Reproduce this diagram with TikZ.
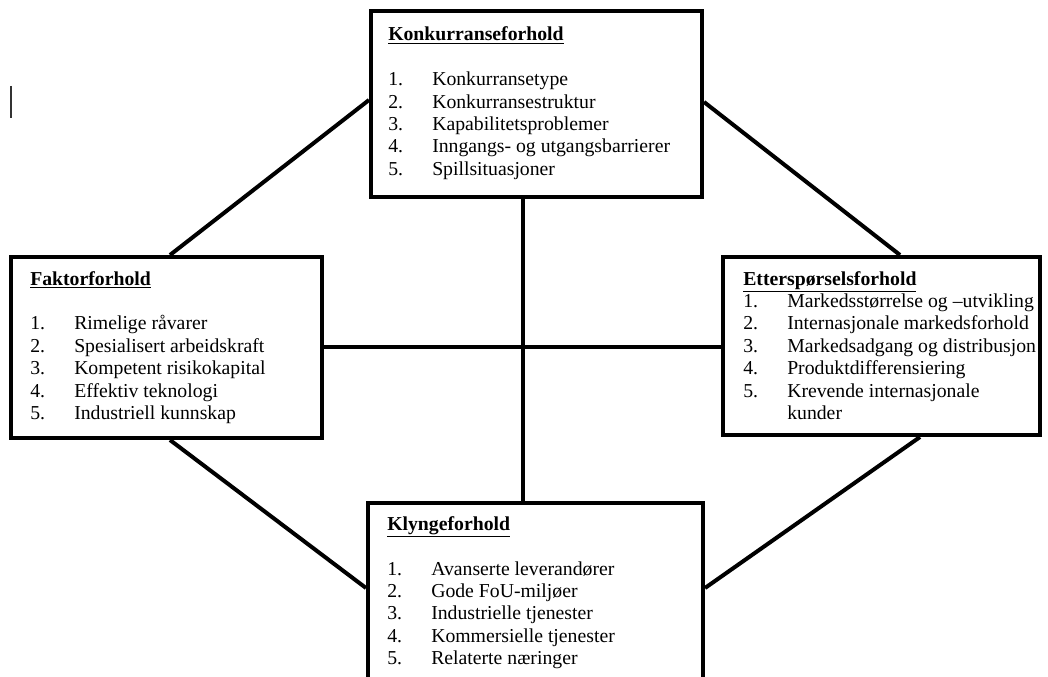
\documentclass[tikz,border=0pt]{standalone}
\usepackage{fontspec}
\setmainfont{Liberation Serif}

\begin{document}
\begin{tikzpicture}[x=0.75pt,y=-0.75pt,
	box/.style={draw=black,line width=3pt,rectangle,inner sep=0pt},
	link/.style={line width=3pt},
	txt/.style={anchor=base west,inner sep=0pt,font=\fontsize{14.8}{16.8}\selectfont}]
	\clip (0,0) rectangle (1048,677);
	%boxes
	\node[box,minimum width=248.25pt,minimum height=139.5pt] (konk) at (536.5,104) {};
	\node[box,minimum width=233.25pt,minimum height=135.75pt] (fak) at (166.5,347.5) {};
	\node[box,minimum width=237.75pt,minimum height=133.5pt] (ett) at (881.5,346) {};
	\node[box,minimum width=251.25pt,minimum height=162.75pt] (kly) at (535.5,611.5) {};
	%connectors
	\draw[link] (konk.west |- 0,100) -- (fak.north -| 170,0);
	\draw[link] (konk.east |- 0,102) -- (ett.north -| 900,0);
	\draw[link] (fak.south -| 170,0) -- (kly.west |- 0,588);
	\draw[link] (ett.south -| 920,0) -- (kly.east |- 0,588);
	\draw[link] (konk.south -| 523,0) -- (kly.north -| 523,0);
	\draw[link] (fak.east |- 0,347) -- (ett.west |- 0,347);
	%cursor
	\draw[line width=1.5pt,black!80] (11,86) -- (11,118);
	%texts
	\node[txt] (konktxt) at (388,41) {\begin{tabular}[t]{@{}p{33pt}@{}l@{}}
		\multicolumn{2}{@{}l@{}}{\underline{\textbf{Konkurranseforhold}}}\\
		\\
		1. & Konkurransetype\\
		2. & Konkurransestruktur\\
		3. & Kapabilitetsproblemer\\
		4. & Inngangs- og utgangsbarrierer\\
		5. & Spillsituasjoner
	\end{tabular}};
	\node[txt] (faktxt) at (30,285) {\begin{tabular}[t]{@{}p{33pt}@{}l@{}}
		\multicolumn{2}{@{}l@{}}{\underline{\textbf{Faktorforhold}}}\\
		\\
		1. & Rimelige råvarer\\
		2. & Spesialisert arbeidskraft\\
		3. & Kompetent risikokapital\\
		4. & Effektiv teknologi\\
		5. & Industriell kunnskap
	\end{tabular}};
	\node[txt] (etttxt) at (743,285) {\begin{tabular}[t]{@{}p{33pt}@{}l@{}}
		\multicolumn{2}{@{}l@{}}{\underline{\textbf{Etterspørselsforhold}}}\\
		1. & Markedsstørrelse og –utvikling\\
		2. & Internasjonale markedsforhold\\
		3. & Markedsadgang og distribusjon\\
		4. & Produktdifferensiering\\
		5. & Krevende internasjonale\\
		& kunder
	\end{tabular}};
	\node[txt] (klytxt) at (387,530) {\begin{tabular}[t]{@{}p{33pt}@{}l@{}}
		\multicolumn{2}{@{}l@{}}{\underline{\textbf{Klyngeforhold}}}\\
		\\
		1. & Avanserte leverandører\\
		2. & Gode FoU-miljøer\\
		3. & Industrielle tjenester\\
		4. & Kommersielle tjenester\\
		5. & Relaterte næringer
	\end{tabular}};
\end{tikzpicture}
\end{document}
